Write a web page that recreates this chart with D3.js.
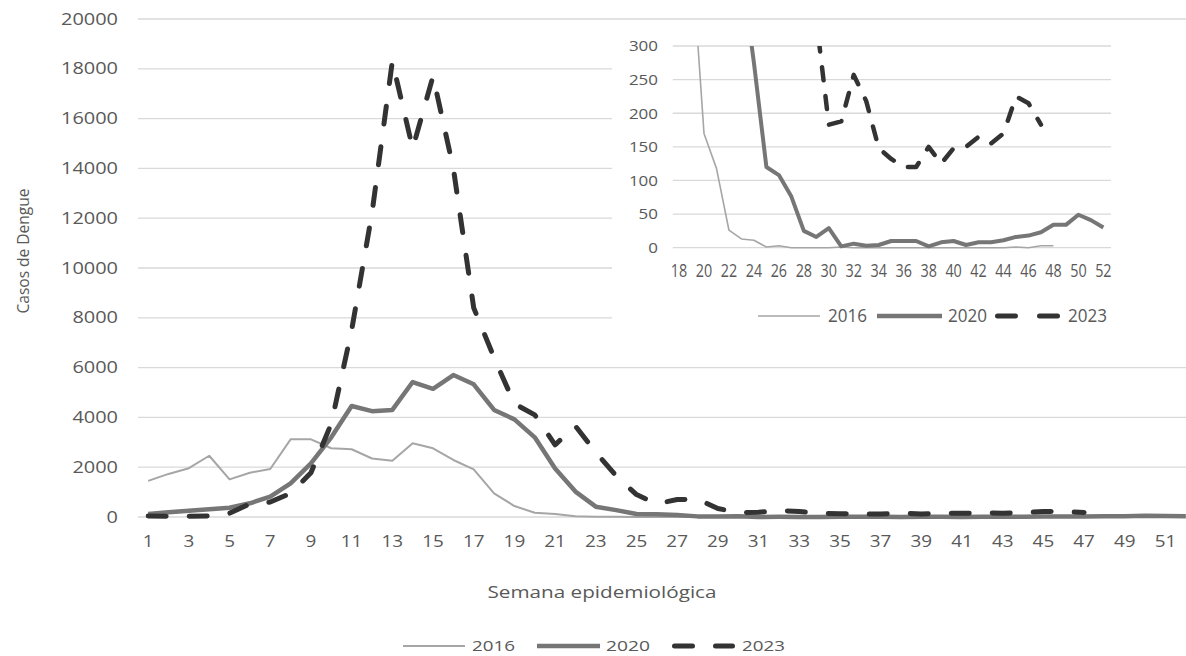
<!DOCTYPE html>
<html><head><meta charset="utf-8">
<script src="https://cdn.jsdelivr.net/npm/d3@7"></script>
<style>
body{margin:0;background:#fff}
svg{display:block}
text{font-family:"Open Sans",sans-serif;fill:#595959}
</style>
</head><body>
<svg id="c" width="1186" height="656"></svg>
<script>
// ---------------- DATA ----------------
const weeks = d3.range(1, 53);
const cases2016 = [1450,1730,1960,2460,1510,1780,1930,3120,3120,2760,2720,2350,2260,2960,2760,2290,1915,950,440,170,118,26,13,11,1,3,0,0,0,0,1,0,0,0,0,0,0,0,0,0,0,0,0,0,1,0,3,3,null,null,null,null];
const cases2020 = [120,190,250,310,370,550,820,1350,2150,3200,4460,4250,4300,5420,5150,5700,5330,4300,3920,3200,1950,1020,415,275,120,108,76,25,16,29,2,6,3,4,10,10,10,2,8,10,4,8,8,11,16,18,23,34,34,49,41,30];
const cases2023 = [40,30,30,40,150,530,600,950,1780,3750,7500,12200,18300,14800,17700,14000,8400,6400,4550,4100,2900,3650,2600,1650,900,530,700,720,340,183,188,257,218,148,132,120,120,150,125,148,150,165,155,170,225,215,183,null,null,null,null,null];
const seriesNames = ["2016", "2020", "2023"];
const mainYTicks = d3.range(0, 20001, 2000);
const mainXTicks = weeks.filter(w => w % 2 === 1);
const insetWeeks = d3.range(18, 53);
const insetYTicks = [0, 50, 100, 150, 200, 250, 300];
const insetXTicks = insetWeeks.filter(w => w % 2 === 0);
const yTitle = "Casos de Dengue";
const xTitle = "Semana epidemiológica";

// ---------------- STYLES ----------------
const styleMain = {
  "2016": {stroke: "#a6a6a6", width: 2, dash: null},
  "2020": {stroke: "#767676", width: 4.5, dash: null},
  "2023": {stroke: "#333333", width: 5, dash: "18,23"}
};
const styleInset = {
  "2016": {stroke: "#a6a6a6", width: 1.6, dash: null},
  "2020": {stroke: "#767676", width: 4, dash: null},
  "2023": {stroke: "#333333", width: 4.5, dash: "13,16"}
};
const seriesData = {"2016": cases2016, "2020": cases2020, "2023": cases2023};

const svg = d3.select("#c");

function txt(g, s, x, y, size, len, anchor) {
  const t = g.append("text").attr("x", x).attr("y", y).attr("font-size", size)
    .attr("text-anchor", anchor || "start").text(s);
  if (len) t.attr("textLength", len).attr("lengthAdjust", "spacingAndGlyphs");
  return t;
}

// ---------------- MAIN CHART ----------------
const x = d3.scalePoint().domain(weeks).range([138, 1196]).padding(0.5);
const y = d3.scaleLinear().domain([0, 20000]).range([517, 19]);

const gMain = svg.append("g");
gMain.selectAll("line.grid").data(mainYTicks).join("line")
  .attr("x1", 138).attr("x2", 1186)
  .attr("y1", d => y(d)).attr("y2", d => y(d))
  .attr("stroke", "#d9d9d9").attr("stroke-width", 1.3);

// y tick labels
gMain.selectAll("text.yt").data(mainYTicks).join("text")
  .attr("x", 118).attr("y", d => y(d) + 5.5)
  .attr("text-anchor", "end").attr("font-size", 15.5)
  .attr("textLength", d => String(d).length * 11.4).attr("lengthAdjust", "spacingAndGlyphs")
  .text(d => d);

// x tick labels
gMain.selectAll("text.xt").data(mainXTicks).join("text")
  .attr("x", d => x(d)).attr("y", 547)
  .attr("text-anchor", "middle").attr("font-size", 15.5)
  .attr("textLength", d => String(d).length * 10.8).attr("lengthAdjust", "spacingAndGlyphs")
  .text(d => d);

// titles
txt(gMain, xTitle, 602, 598, 16.5, 229, "middle");
gMain.append("text").attr("transform", "translate(29,251) rotate(-90)")
  .attr("text-anchor", "middle").attr("font-size", 16)
  .attr("textLength", 125).attr("lengthAdjust", "spacingAndGlyphs").text(yTitle);

function drawSeries(g, xs, ys, styles, domainWeeks) {
  seriesNames.forEach(name => {
    const st = styles[name];
    const pts = weeks.map((w, i) => ({w, v: seriesData[name][i]}))
      .filter(p => domainWeeks.includes(p.w));
    const line = d3.line().defined(p => p.v != null).x(p => xs(p.w)).y(p => ys(p.v));
    const p = g.append("path").attr("d", line(pts)).attr("fill", "none")
      .attr("stroke", st.stroke).attr("stroke-width", st.width)
      .attr("stroke-linejoin", "round");
    if (st.dash) p.attr("stroke-dasharray", st.dash).attr("stroke-linecap", "round");
  });
}
drawSeries(gMain, x, y, styleMain, weeks);

// main legend
const legY = 646;
const gLeg = svg.append("g");
gLeg.append("line").attr("x1", 403).attr("x2", 465).attr("y1", legY).attr("y2", legY)
  .attr("stroke", styleMain["2016"].stroke).attr("stroke-width", 2);
txt(gLeg, seriesNames[0], 472, legY + 5, 14.5, 43);
gLeg.append("line").attr("x1", 537).attr("x2", 600).attr("y1", legY).attr("y2", legY)
  .attr("stroke", styleMain["2020"].stroke).attr("stroke-width", 4.5);
txt(gLeg, seriesNames[1], 606, legY + 5, 14.5, 44);
gLeg.append("line").attr("x1", 674.5).attr("x2", 732.5).attr("y1", legY).attr("y2", legY)
  .attr("stroke", styleMain["2023"].stroke).attr("stroke-width", 5)
  .attr("stroke-dasharray", "18,23").attr("stroke-linecap", "round");
txt(gLeg, seriesNames[2], 742, legY + 5, 14.5, 43);

// ---------------- INSET ----------------
const gIn = svg.append("g");
gIn.append("rect").attr("x", 612).attr("y", 27).attr("width", 574).attr("height", 318).attr("fill", "#fff");
const xi = d3.scalePoint().domain(insetWeeks).range([672.8, 1109.6]).padding(0.5);
const yi = d3.scaleLinear().domain([0, 300]).range([247.7, 46]);

gIn.selectAll("line.ig").data(insetYTicks).join("line")
  .attr("x1", 672.8).attr("x2", 1111)
  .attr("y1", d => yi(d)).attr("y2", d => yi(d))
  .attr("stroke", "#d9d9d9").attr("stroke-width", 1.3);

gIn.selectAll("text.iyt").data(insetYTicks).join("text")
  .attr("x", 658).attr("y", d => yi(d) + 5.3)
  .attr("text-anchor", "end").attr("font-size", 15)
  .attr("textLength", d => String(d).length * 9.7).attr("lengthAdjust", "spacingAndGlyphs")
  .text(d => d);

gIn.selectAll("text.ixt").data(insetXTicks).join("text")
  .attr("x", d => xi(d)).attr("y", 276.5)
  .attr("text-anchor", "middle").attr("font-size", 17.5)
  .attr("textLength", d => String(d).length * 8.2).attr("lengthAdjust", "spacingAndGlyphs")
  .text(d => d);

svg.append("defs").append("clipPath").attr("id", "insetClip")
  .append("rect").attr("x", 672.8).attr("y", 46).attr("width", 440).attr("height", 210);
const gInPlot = gIn.append("g").attr("clip-path", "url(#insetClip)");
drawSeries(gInPlot, xi, yi, styleInset, insetWeeks);

// inset legend
gIn.append("line").attr("x1", 758).attr("x2", 820).attr("y1", 316).attr("y2", 316)
  .attr("stroke", styleInset["2016"].stroke).attr("stroke-width", 1.6);
txt(gIn, seriesNames[0], 828, 322, 17.5, 39);
gIn.append("line").attr("x1", 877).attr("x2", 942).attr("y1", 316).attr("y2", 316)
  .attr("stroke", styleInset["2020"].stroke).attr("stroke-width", 4.5);
txt(gIn, seriesNames[1], 948, 322, 17.5, 39);
gIn.append("line").attr("x1", 997.5).attr("x2", 1057.5).attr("y1", 316).attr("y2", 316)
  .attr("stroke", styleInset["2023"].stroke).attr("stroke-width", 5)
  .attr("stroke-dasharray", "18,24").attr("stroke-linecap", "round");
txt(gIn, seriesNames[2], 1068, 322, 17.5, 39);
</script>
</body></html>
